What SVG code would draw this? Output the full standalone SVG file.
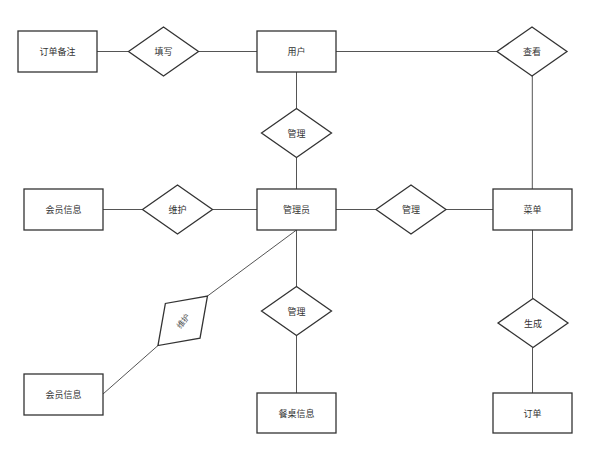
<svg xmlns="http://www.w3.org/2000/svg" width="608" height="460" viewBox="0 0 608 460">
<style>
.ent{fill:#fff;stroke:#333;stroke-width:1.3}
.rel{fill:#fff;stroke:#333;stroke-width:1.3}
.lbl{font-family:"Noto Sans CJK SC","Liberation Sans",sans-serif;font-size:9px;fill:#333;text-anchor:middle;dominant-baseline:central}
.conn line{stroke:#555;stroke-width:1}
</style>
<defs>
<polygon id="dia" points="-35,0 0,-24.5 35,0 0,24.5"/>
</defs>
<rect width="608" height="460" fill="#fff"/>
<g id="connectors" class="conn">
<line x1="97" y1="51.5" x2="128.5" y2="51.5"/>
<line x1="198.5" y1="51.5" x2="257" y2="51.5"/>
<line x1="336" y1="51.5" x2="497" y2="51.5"/>
<line x1="532.3" y1="76" x2="532.3" y2="189"/>
<line x1="296.5" y1="72" x2="296.5" y2="108.5"/>
<line x1="296.5" y1="157.5" x2="296.5" y2="189"/>
<line x1="103" y1="209.5" x2="142.5" y2="209.5"/>
<line x1="212.5" y1="209.5" x2="257" y2="209.5"/>
<line x1="336" y1="209.5" x2="376" y2="209.5"/>
<line x1="446" y1="209.5" x2="493" y2="209.5"/>
<line x1="532.5" y1="230" x2="532.5" y2="298.5"/>
<line x1="532.5" y1="347.5" x2="532.5" y2="393"/>
<line x1="296.5" y1="230" x2="296.5" y2="286.5"/>
<line x1="296.5" y1="335.5" x2="296.5" y2="393"/>
<line x1="296.5" y1="230" x2="207.4" y2="296.1"/>
<line x1="158" y1="345.5" x2="103" y2="394"/>
</g>
<g id="n-dingdanbeizhu"><rect class="ent" x="18" y="31" width="79" height="41"/><text class="lbl" x="57.5" y="51.5">订单备注</text></g>
<g id="r-tianxie"><use href="#dia" class="rel" x="163.5" y="51.5"/><text class="lbl" x="163.5" y="51.5">填写</text></g>
<g id="n-yonghu"><rect class="ent" x="257" y="31" width="79" height="41"/><text class="lbl" x="296.5" y="51.5">用户</text></g>
<g id="r-chakan"><use href="#dia" class="rel" x="532" y="51.5"/><text class="lbl" x="532" y="51.5">查看</text></g>
<g id="r-guanli1"><use href="#dia" class="rel" x="296.5" y="133"/><text class="lbl" x="296.5" y="133">管理</text></g>
<g id="n-huiyuan1"><rect class="ent" x="24" y="189" width="79" height="41"/><text class="lbl" x="63.5" y="209.5">会员信息</text></g>
<g id="r-weihu1"><use href="#dia" class="rel" x="177.5" y="209.5"/><text class="lbl" x="177.5" y="209.5">维护</text></g>
<g id="n-guanliyuan"><rect class="ent" x="257" y="189" width="79" height="41"/><text class="lbl" x="296.5" y="209.5">管理员</text></g>
<g id="r-guanli2"><use href="#dia" class="rel" x="411" y="209.5"/><text class="lbl" x="411" y="209.5">管理</text></g>
<g id="n-caidan"><rect class="ent" x="493" y="189" width="79" height="41"/><text class="lbl" x="532.5" y="209.5">菜单</text></g>
<g id="r-shengcheng"><use href="#dia" class="rel" x="533" y="323"/><text class="lbl" x="533" y="323">生成</text></g>
<g id="n-dingdan"><rect class="ent" x="493" y="393" width="79" height="40"/><text class="lbl" x="532.5" y="413">订单</text></g>
<g id="r-guanli3"><use href="#dia" class="rel" x="296.5" y="311"/><text class="lbl" x="296.5" y="311">管理</text></g>
<g id="n-canzhuo"><rect class="ent" x="257" y="393" width="79" height="40"/><text class="lbl" x="296.5" y="413">餐桌信息</text></g>
<g id="r-weihu2" transform="translate(182.7 320.8) rotate(-45)"><use href="#dia" class="rel"/><text class="lbl" x="0" y="0" transform="rotate(-8)" style="font-size:8px;fill:#555">维护</text></g>
<g id="n-huiyuan2"><rect class="ent" x="24" y="374" width="79" height="41"/><text class="lbl" x="63.5" y="394.5">会员信息</text></g>
</svg>
